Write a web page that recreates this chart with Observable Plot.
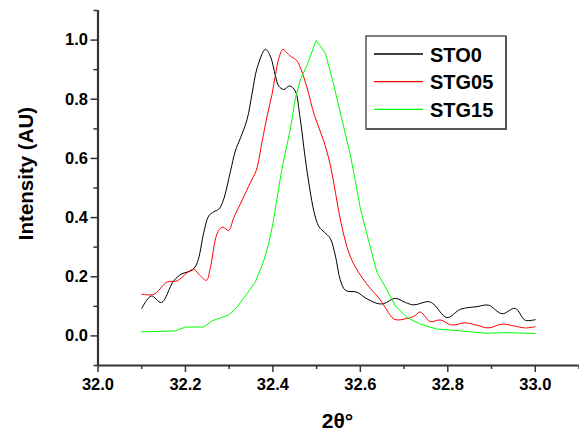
<!DOCTYPE html>
<html>
<head>
<meta charset="utf-8">
<script src="https://cdn.jsdelivr.net/npm/d3@7"></script>
<script src="https://cdn.jsdelivr.net/npm/@observablehq/plot@0.6"></script>
<style>
  html, body { margin: 0; padding: 0; background: #fff; }
  #wrap { position: relative; width: 579px; height: 434px; font-family: "Liberation Sans", Arial, sans-serif; }
  #legend { position: absolute; left: 0; top: 0; pointer-events: none; }
</style>
</head>
<body>
<div id="wrap"></div>
<script>
// ---- data ----
const seriesNames = ["STO0", "STG05", "STG15"];
const seriesColors = ["#000000", "#ff0000", "#00ff00"];

const sto0X = [32.100,32.122,32.145,32.173,32.192,32.215,32.227,32.242,32.253,32.265,32.276,32.286,32.303,32.314,32.326,32.341,32.352,32.364,32.383,32.394,32.406,32.413,32.425,32.438,32.451,32.461,32.474,32.484,32.494,32.505,32.518,32.531,32.543,32.554,32.566,32.592,32.611,32.638,32.653,32.680,32.703,32.722,32.756,32.768,32.798,32.829,32.867,32.893,32.924,32.954,32.977,33.000];
const sto0Y = [0.093,0.135,0.113,0.186,0.210,0.222,0.248,0.350,0.405,0.420,0.428,0.456,0.557,0.625,0.670,0.732,0.816,0.906,0.969,0.946,0.878,0.845,0.833,0.845,0.828,0.749,0.600,0.500,0.420,0.370,0.350,0.330,0.270,0.190,0.154,0.148,0.129,0.110,0.109,0.127,0.113,0.105,0.116,0.107,0.062,0.090,0.099,0.104,0.075,0.093,0.053,0.055];

const stg05X = [32.100,32.128,32.158,32.181,32.204,32.219,32.234,32.248,32.257,32.272,32.284,32.299,32.310,32.330,32.349,32.362,32.375,32.387,32.398,32.406,32.413,32.423,32.432,32.440,32.455,32.463,32.478,32.495,32.516,32.531,32.543,32.554,32.570,32.585,32.604,32.623,32.642,32.657,32.678,32.707,32.722,32.737,32.749,32.760,32.783,32.808,32.840,32.867,32.893,32.924,32.950,32.977,33.000];
const stg05Y = [0.141,0.141,0.182,0.186,0.214,0.225,0.203,0.188,0.231,0.344,0.368,0.357,0.398,0.460,0.520,0.560,0.655,0.745,0.817,0.884,0.935,0.969,0.957,0.946,0.930,0.906,0.839,0.745,0.660,0.580,0.485,0.395,0.298,0.242,0.197,0.160,0.129,0.096,0.056,0.059,0.066,0.081,0.064,0.048,0.054,0.037,0.044,0.036,0.027,0.040,0.034,0.027,0.031];

const stg15X = [32.100,32.139,32.177,32.200,32.242,32.261,32.299,32.318,32.337,32.360,32.379,32.390,32.400,32.420,32.440,32.451,32.463,32.478,32.499,32.520,32.537,32.556,32.577,32.590,32.600,32.615,32.638,32.661,32.680,32.707,32.737,32.775,32.798,32.844,32.890,32.935,33.000];
const stg15Y = [0.014,0.015,0.017,0.030,0.030,0.051,0.071,0.098,0.135,0.183,0.253,0.310,0.380,0.560,0.700,0.800,0.868,0.915,0.999,0.955,0.861,0.743,0.613,0.512,0.430,0.344,0.215,0.155,0.101,0.062,0.040,0.023,0.021,0.015,0.009,0.011,0.008];

const xMajorTicks = [32.0, 32.2, 32.4, 32.6, 32.8, 33.0];
const xMinorTicks = [32.1, 32.3, 32.5, 32.7, 32.9, 33.1];
const yMajorTicks = [0.0, 0.2, 0.4, 0.6, 0.8, 1.0];
const yMinorTicks = [-0.1, 0.1, 0.3, 0.5, 0.7, 0.9, 1.1];
const xDomain = [32.0, 33.1];
const yDomain = [-0.1, 1.1];
const xLabel = "2θ°";
const yLabel = "Intensity (AU)";

// ---- tables built from the arrays ----
const toRows = (xs, ys) => xs.map((x, i) => ({x, y: ys[i]}));
const sto0 = toRows(sto0X, sto0Y);
const stg05 = toRows(stg05X, stg05Y);
const stg15 = toRows(stg15X, stg15Y);

const axisColor = "#333";
const fmt = d3.format(".1f");

const chart = Plot.plot({
  width: 579,
  height: 434,
  marginTop: 10,
  marginBottom: 69,
  marginLeft: 97.5,
  marginRight: 0.5,
  x: {domain: xDomain, label: null},
  y: {domain: yDomain, label: null},
  style: {fontFamily: "'Liberation Sans', Arial, sans-serif", fontWeight: "bold", color: "#000", background: "#fff", overflow: "visible"},
  marks: [
    Plot.axisX(xMajorTicks, {tickSize: 7, tickPadding: 6, tickFormat: fmt, fontSize: 16.5, fontWeight: "bold", stroke: axisColor, strokeWidth: 1.5, fill: "#000", label: null}),
    Plot.axisX(xMinorTicks, {tickSize: 4, tickFormat: () => "", stroke: axisColor, strokeWidth: 1.5, label: null}),
    Plot.axisY(yMajorTicks, {tickSize: 7, tickPadding: 3, tickFormat: fmt, fontSize: 16.5, fontWeight: "bold", stroke: axisColor, strokeWidth: 1.5, fill: "#000", label: null}),
    Plot.axisY(yMinorTicks, {tickSize: 4, tickFormat: () => "", stroke: axisColor, strokeWidth: 1.5, label: null}),
    Plot.ruleY([yDomain[0]], {stroke: axisColor, strokeWidth: 2.2}),
    Plot.ruleX([xDomain[0]], {stroke: axisColor, strokeWidth: 2.2}),
    Plot.line(sto0, {x: "x", y: "y", stroke: seriesColors[0], strokeWidth: 1, curve: "catmull-rom"}),
    Plot.line(stg05, {x: "x", y: "y", stroke: seriesColors[1], strokeWidth: 1, curve: "catmull-rom"}),
    Plot.line(stg15, {x: "x", y: "y", stroke: seriesColors[2], strokeWidth: 1, curve: "linear"}),
    Plot.text([yLabel], {frameAnchor: "left", dx: -72, dy: -14.5, rotate: -90, fontSize: 20.5, fontWeight: "bold", fill: "#000", textAnchor: "middle", lineAnchor: "middle"}),
    Plot.text([xLabel], {frameAnchor: "bottom", dx: -1, dy: 56, fontSize: 21, fontWeight: "bold", fill: "#000", textAnchor: "middle", lineAnchor: "middle"})
  ]
});

const wrap = document.getElementById("wrap");
wrap.appendChild(chart);

// ---- legend (overlay) ----
const NS = "http://www.w3.org/2000/svg";
const leg = document.createElementNS(NS, "svg");
leg.setAttribute("id", "legend");
leg.setAttribute("width", 579);
leg.setAttribute("height", 434);
const el = (tag, attrs, parent) => { const e = document.createElementNS(NS, tag); for (const k in attrs) e.setAttribute(k, attrs[k]); parent.appendChild(e); return e; };
const bx = 366, by = 36, bw = 140, bh = 93;
el("rect", {x: bx, y: by, width: bw, height: bh, fill: "#fff", stroke: "#000", "stroke-width": 1}, leg);
el("line", {x1: bx + bw, y1: by, x2: bx + bw, y2: by + bh + 1, stroke: "#555", "stroke-width": 2}, leg);
el("line", {x1: bx, y1: by + bh, x2: bx + bw + 1, y2: by + bh, stroke: "#555", "stroke-width": 2}, leg);
seriesNames.forEach((name, i) => {
  const ly = 54 + i * 27.7;
  el("line", {x1: 374, y1: ly, x2: 423, y2: ly, stroke: seriesColors[i], "stroke-width": 1.3}, leg);
  const t = el("text", {x: 430, y: ly + 7.5, "font-size": 20, "font-weight": "bold", fill: "#000", "font-family": "'Liberation Sans', Arial, sans-serif"}, leg);
  t.textContent = name;
});
wrap.appendChild(leg);
</script>
</body>
</html>
